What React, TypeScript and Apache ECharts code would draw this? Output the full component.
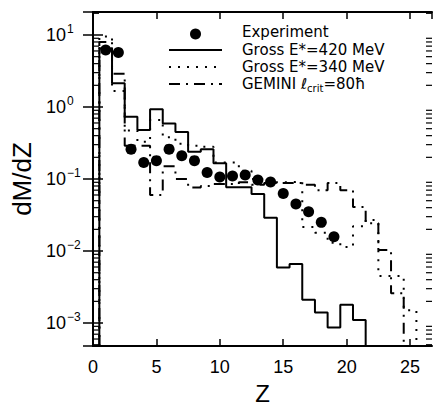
import React, { useEffect, useRef } from 'react';
import * as echarts from 'echarts';

// bin centres (Z), bins are 1 unit wide
const zBins = [1, 2, 3, 4, 5, 6, 7, 8, 9, 10, 11, 12, 13, 14, 15, 16, 17, 18, 19, 20, 21, 22, 23, 24, 25, 26];

// Experiment points, Z = 1..19
const experiment = [6.2, 5.7, 0.26, 0.17, 0.18, 0.26, 0.21, 0.18, 0.123, 0.107, 0.11, 0.114, 0.097, 0.091, 0.063, 0.045, 0.035, 0.025, 0.0158];

// Gross E*=420 MeV histogram, Z = 1..21
const gross420 = [6.5, 2.14, 0.73, 0.48, 0.93, 0.59, 0.45, 0.24, 0.26, 0.165, 0.077, 0.077, 0.062, 0.029, 0.0059, 0.0066, 0.0021, 0.0014, 0.00087, 0.0018, 0.0011];

// Gross E*=340 MeV histogram, Z = 1..25
const gross340 = [9.5, 1.67, 0.47, 0.33, 0.66, 0.38, 0.31, 0.29, 0.28, 0.17, 0.17, 0.13, 0.1, 0.09, 0.09, 0.092, 0.0215, 0.018, 0.013, 0.0114, 0.022, 0.027, 0.0045, 0.0045, 0.0015];

// GEMINI l_crit = 80 hbar histogram, Z = 1..24
const gemini = [8, 2.9, 0.29, 0.29, 0.06, 0.15, 0.1, 0.076, 0.08, 0.085, 0.085, 0.09, 0.083, 0.088, 0.088, 0.088, 0.083, 0.07, 0.088, 0.07, 0.041, 0.0243, 0.0103, 0.0026];

// axis ticks
const xTicks = [0, 5, 10, 15, 20, 25];
const decades = [-4, -3, -2, -1, 0, 1];
const minorMultipliers = [2, 3, 4, 5, 6, 7, 8, 9];

const legendLabels = ['Experiment', 'Gross E*=420 MeV', 'Gross E*=340 MeV'];

const X_MIN = 0;
const X_MAX = 26.73;
const Y_MIN = 4.8e-4;
const Y_MAX = 20.85;

const FONT = '"Liberation Sans", Arial, sans-serif';
const LFONT = '"DejaVu Sans", sans-serif';

function stepPoints(values: number[]) {
  const pts: number[][] = [[zBins[0] - 0.5, Y_MIN]];
  values.forEach((v, i) => {
    pts.push([zBins[i] - 0.5, v], [zBins[i] + 0.5, v]);
  });
  pts.push([zBins[values.length - 1] + 0.5, Y_MIN]);
  return pts;
}

export default function App() {
  const ref = useRef<HTMLDivElement>(null);
  useEffect(() => {
    if (!ref.current) return;
    const chart = echarts.init(ref.current, null, { renderer: 'svg' });

    const minorTicks: number[][] = [];
    decades.forEach((d) => {
      minorMultipliers.forEach((m) => {
        const v = m * Math.pow(10, d);
        if (v > Y_MIN && v < Y_MAX) minorTicks.push([X_MIN, v]);
      });
    });

    const axisLine = { show: true, lineStyle: { color: '#000', width: 2 } };
    const xTick = { show: true, inside: true, length: 7, lineStyle: { color: '#000', width: 1.5 } };
    const yTick = { show: true, inside: true, length: 10, lineStyle: { color: '#000', width: 1.5 } };

    const histLine = (name: string, values: number[], type: any) => ({
      name,
      type: 'line',
      data: stepPoints(values),
      showSymbol: false,
      symbol: 'none',
      clip: true,
      lineStyle: { color: '#000', width: 2, type },
      z: 3,
    });

    const lx1 = 169, lx2 = 222, tx = 242;
    const rows = [32, 50, 67, 84];

    chart.setOption({
      animation: false,
      backgroundColor: '#fff',
      grid: { left: 93, right: 1, top: 12, bottom: 61, containLabel: false, outerBoundsMode: 'none' },
      xAxis: [
        {
          type: 'value', position: 'bottom', min: X_MIN, max: X_MAX, interval: 5,
          axisLine, axisTick: xTick, splitLine: { show: false },
          axisLabel: {
            color: '#000', fontSize: 18, fontFamily: FONT, margin: 12,
            showMaxLabel: false,
            formatter: (v: number) => (xTicks.indexOf(v) >= 0 ? String(v) : ''),
          },
          name: 'Z', nameLocation: 'middle', nameGap: 35,
          nameTextStyle: { color: '#000', fontSize: 24, fontFamily: FONT, lineHeight: 24 },
        },
        {
          type: 'value', position: 'top', min: X_MIN, max: X_MAX, interval: 5,
          axisLine, axisTick: xTick, axisLabel: { show: false }, splitLine: { show: false },
        },
      ],
      yAxis: [
        {
          type: 'log', logBase: 10, position: 'left', min: Y_MIN, max: Y_MAX,
          axisLine, axisTick: yTick, splitLine: { show: false },
          axisLabel: {
            align: 'left', margin: 47, color: '#000',
            showMinLabel: false, showMaxLabel: false,
            formatter: (v: number) => {
              const e = Math.log10(v);
              const r = Math.round(e);
              if (Math.abs(e - r) > 1e-6) return '';
              return `{b|10}{s|${r < 0 ? '\u2212' + -r : r}}`;
            },
            rich: {
              b: { fontSize: 18, fontFamily: FONT, color: '#000' },
              s: { fontSize: 12, fontFamily: FONT, color: '#000', padding: [0, 0, 12, 1] },
            },
          },
          name: 'dM/dZ', nameLocation: 'middle', nameGap: 58, nameRotate: 90,
          nameTextStyle: { color: '#000', fontSize: 26, fontFamily: FONT },
        },
        {
          type: 'log', logBase: 10, position: 'right', min: Y_MIN, max: Y_MAX,
          axisLine, axisTick: yTick, axisLabel: { show: false }, splitLine: { show: false },
        },
      ],
      series: [
        {
          name: 'minorTicks',
          type: 'custom',
          xAxisIndex: 0, yAxisIndex: 0,
          data: minorTicks,
          silent: true,
          clip: false,
          renderItem: (params: any, api: any) => {
            const v = api.value(1);
            const pL = api.coord([X_MIN, v]);
            const pR = api.coord([X_MAX, v]);
            return {
              type: 'group',
              children: [
                { type: 'line', shape: { x1: pL[0], y1: pL[1], x2: pL[0] + 6, y2: pL[1] }, style: { stroke: '#000', lineWidth: 1.2 } },
                { type: 'line', shape: { x1: pR[0] - 6, y1: pR[1], x2: pR[0], y2: pR[1] }, style: { stroke: '#000', lineWidth: 1.2 } },
              ],
            };
          },
        },
        histLine('Gross E*=420 MeV', gross420, 'solid'),
        histLine('Gross E*=340 MeV', gross340, [2, 7]),
        histLine('GEMINI', gemini, [11, 6, 2, 6]),
        {
          name: 'Experiment',
          type: 'scatter',
          data: experiment.map((v, i) => [zBins[i], v]),
          symbol: 'circle',
          symbolSize: 11,
          itemStyle: { color: '#000', opacity: 1 },
          z: 5,
        },
      ],
      graphic: [
        { type: 'circle', shape: { cx: (lx1 + lx2) / 2, cy: rows[0] + 2, r: 5.5 }, style: { fill: '#000' } },
        { type: 'line', shape: { x1: lx1, y1: rows[1], x2: lx2, y2: rows[1] }, style: { stroke: '#000', lineWidth: 2 } },
        { type: 'line', shape: { x1: lx1, y1: rows[2], x2: lx2, y2: rows[2] }, style: { stroke: '#000', lineWidth: 2, lineDash: [2, 7] } },
        { type: 'line', shape: { x1: lx1, y1: rows[3], x2: lx2, y2: rows[3] }, style: { stroke: '#000', lineWidth: 2, lineDash: [11, 6, 2, 6] } },
        { type: 'text', x: tx, y: rows[0], style: { text: legendLabels[0], font: `15px ${LFONT}`, fill: '#000', verticalAlign: 'middle' } },
        { type: 'text', x: tx, y: rows[1], style: { text: legendLabels[1], font: `15px ${LFONT}`, fill: '#000', verticalAlign: 'middle' } },
        { type: 'text', x: tx, y: rows[2], style: { text: legendLabels[2], font: `15px ${LFONT}`, fill: '#000', verticalAlign: 'middle' } },
        {
          type: 'text', x: tx, y: rows[3],
          style: {
            text: '{a|GEMINI \u2113}{c|crit}{a|=80\u0127}',
            verticalAlign: 'middle',
            rich: {
              a: { fontSize: 15, fontFamily: LFONT, fill: '#000' },
              c: { fontSize: 10, fontFamily: LFONT, fill: '#000', padding: [8, 0, 0, 0] },
            },
          },
        },
      ],
    });
    return () => chart.dispose();
  }, []);
  return <div ref={ref} style={{ position: 'fixed', left: 0, top: 0, width: 433, height: 407, background: '#fff' }} />;
}
